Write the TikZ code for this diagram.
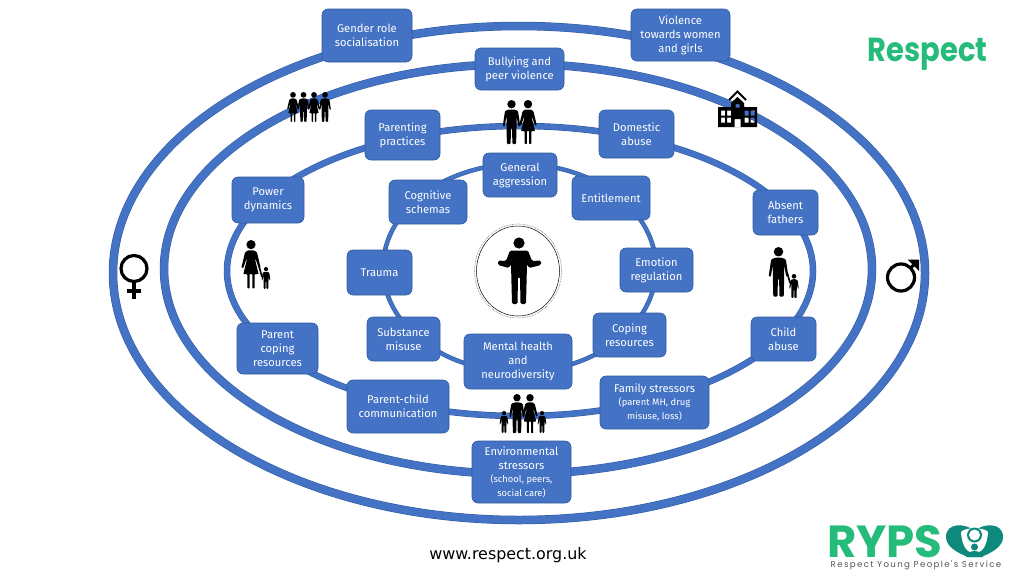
\documentclass[tikz,border=0pt]{standalone}
\usepackage{fontspec}
\usepackage{xcolor}
\setmainfont{Fira Sans}
\newfontfamily\logofont{Poppins}
\newfontfamily\webfont{DejaVu Sans}
\definecolor{ringblue}{HTML}{4472C4}
\definecolor{ringedge}{HTML}{2F5C9F}
\definecolor{respectgreen}{HTML}{25BC7B}
\definecolor{heartteal}{HTML}{0E8A7D}
\definecolor{strapgrey}{HTML}{555555}
\newcommand{\subtextfont}{\fontsize{9.4}{11.5}\selectfont}
\tikzset{
   topic/.style={draw=ringedge,fill=ringblue,rounded corners=6,line width=0.6,inner sep=0,
     align=center,text=white,font=\fontsize{11.2}{14}\selectfont},
   ring/.style={draw=ringedge,double=ringblue,line width=0.5},
   pics/manfig/.style={code={
     \fill (0,4.2) circle (4.2);
     \fill[rounded corners=1] (-3,9.5) -- (3,9.5) -- (6.5,11) -- (8.7,26) -- (6.9,26.5) -- (5,16)
       -- (5,28) -- (4.6,44) -- (0.9,44) -- (0.5,28) -- (-0.5,28) -- (-0.9,44) -- (-4.6,44) -- (-5,28) -- (-5,16)
       -- (-6.9,26.5) -- (-8.7,26) -- (-6.5,11) -- cycle;
   }},
   pics/womanfig/.style={code={
     \fill (0,4.2) circle (4.2);
     \fill[rounded corners=0.7] (-3,9.5) -- (3,9.5) -- (5.5,11.5) -- (8.7,25) -- (7,25.5) -- (3.8,16) -- (4,19)
       -- (7,31) -- (3.4,31) -- (3.4,44) -- (1.2,44) -- (1.2,31) -- (-1.2,31) -- (-1.2,44) -- (-3.4,44)
       -- (-3.4,31) -- (-7,31) -- (-4,19) -- (-3.8,16) -- (-7,25.5) -- (-8.7,25) -- (-5.5,11.5) -- cycle;
   }},
}
\begin{document}
\begin{tikzpicture}[x=1pt,y=-1pt]
  \useasboundingbox (0,0) rectangle (1024,576);

  % rings
  \draw [ring,double distance=7.5] (519,273) ellipse (406 and 247);
  \draw [ring,double distance=7.5] (518,269) ellipse (354 and 205);
  \draw [ring,double distance=5.5] (520,271) ellipse (293 and 145);
  \draw [ring,double distance=3.5] (519.5,268) ellipse (136.5 and 104);

  % outer ring
  \node (gender) at (367,35.5) [topic,minimum width=90,minimum height=53] {Gender role\\socialisation};
  \node (violence) at (680.5,35) [topic,minimum width=99,minimum height=52] {Violence\\towards women\\and girls};
  % middle ring
  \node (bullying) at (519.5,69) [topic,minimum width=89,minimum height=42] {Bullying and\\peer violence};
  \node (environ) at (521.5,472) [topic,minimum width=99,minimum height=62] {Environmental\\stressors\\[-1pt]\subtextfont (school, peers,\\\subtextfont social care)};
  % inner ring
  \node (parenting) at (402.5,135) [topic,minimum width=75,minimum height=50] {Parenting\\practices};
  \node (domestic) at (636.5,134) [topic,minimum width=75,minimum height=48] {Domestic\\abuse};
  \node (power) at (268,200) [topic,minimum width=72,minimum height=46] {Power\\dynamics};
  \node (absent) at (785.5,212.5) [topic,minimum width=65,minimum height=45] {Absent\\fathers};
  \node (coping) at (277.5,348.5) [topic,minimum width=81,minimum height=51] {Parent\\coping\\resources};
  \node (child) at (783.5,339) [topic,minimum width=65,minimum height=44] {Child\\abuse};
  \node (parentchild) at (398,406.5) [topic,minimum width=102,minimum height=53] {Parent-child\\communication};
  \node (family) at (654.5,402.5) [topic,minimum width=109,minimum height=53] {Family stressors\\[-1pt]\subtextfont (parent MH, drug\\\subtextfont misuse, loss)};
  % innermost ring
  \node (general) at (520,175) [topic,minimum width=74,minimum height=44] {General\\aggression};
  \node (cognitive) at (428,202) [topic,minimum width=78,minimum height=44] {Cognitive\\schemas};
  \node (entitle) at (611,198) [topic,minimum width=78,minimum height=44] {Entitlement};
  \node (trauma) at (379.5,272.5) [topic,minimum width=65,minimum height=45] {Trauma};
  \node (emotion) at (656.5,270) [topic,minimum width=73,minimum height=44] {Emotion\\regulation};
  \node (substance) at (403.5,339) [topic,minimum width=73,minimum height=44] {Substance\\misuse};
  \node (resources) at (629.5,335) [topic,minimum width=73,minimum height=44] {Coping\\resources};
  \node (mental) at (518,361.5) [topic,minimum width=108,minimum height=55] {Mental health\\and\\neurodiversity};

  % people
  \pic [scale=0.68] at (293,92) {womanfig};
  \pic [scale=0.68] at (303.5,92) {manfig};
  \pic [scale=0.68] at (314,92) {womanfig};
  \pic [scale=0.68] at (325,92) {manfig};
  \pic at (511.5,100) {manfig};
  \pic at (528,100) {womanfig};
  \pic [scale=1.1] at (251,240) {womanfig};
  \pic [scale=0.5] at (266,267) {manfig};
  \draw [line width=1.6] (259,266) -- (262,277);
  \pic [scale=1.13] at (778.5,247) {manfig};
  \pic [scale=0.55] at (794,274) {manfig};
  \draw [line width=1.6] (787,272) -- (790,283);
  \pic [scale=0.5] at (504,411) {manfig};
  \pic [scale=0.89] at (517,394) {manfig};
  \pic [scale=0.89] at (530,394) {womanfig};
  \pic [scale=0.5] at (542,411) {manfig};

  % centre
  \draw [gray,densely dotted,line width=0.7] (518,271) ellipse (43.5 and 47);
  \draw [line width=0.5] (518,271) ellipse (41.5 and 45);
  \fill (519,243) circle (5.6);
  \fill [rounded corners=1.5] (510,250.5) -- (528,250.5) -- (532,261) -- (541,260.5) -- (541,265) -- (529,268) -- (527,264)
    -- (526,304) -- (520.5,304) -- (520,277) -- (518,277) -- (517.5,304) -- (512,304) -- (511,264) -- (509,268)
    -- (498,265) -- (498,260.5) -- (506,261) -- cycle;

  % gender symbols
  \draw [line width=3.2] (134,268.5) circle (13);
  \draw [line width=3.2] (134,281.5) -- (134,299) (127,291) -- (141,291);
  \draw [line width=3.2] (901,277.5) circle (13.5);
  \draw [line width=3.2] (910.5,268) -- (917,261.5);
  \fill (919,259.5) -- (919,271) -- (907.5,259.5) -- cycle;

  % school
  \fill [even odd rule] (718,107) -- (731,107) -- (731,103) -- (737.5,97) -- (744,103) -- (744,107) -- (757,107) -- (757,127) -- (718,127) -- cycle
    (735.5,104) rectangle (739.5,107.5) (734.5,119) rectangle (740.5,127)
    (721,110.5) rectangle +(4,5) (727,110.5) rectangle +(4,5) (721,117.5) rectangle +(4,5) (727,117.5) rectangle +(4,5)
    (744.5,110.5) rectangle +(4,5) (750.5,110.5) rectangle +(4,5) (744.5,117.5) rectangle +(4,5) (750.5,117.5) rectangle +(4,5);
  \draw [line width=1.8] (729,100) -- (737.5,91.5) -- (746,100);

  % logos
  \node (respect) at (927.5,54) [transform shape,yscale=1.15,text=respectgreen,font=\logofont\bfseries\fontsize{29}{29}\selectfont,inner sep=0] {Respect};
  \node (rypsname) at (885,541.5) [text=respectgreen,font=\logofont\bfseries\fontsize{45}{45}\selectfont,inner sep=0] {RYPS};
  \node (rypsline) at (916,565) [text=strapgrey,font=\logofont\fontsize{8.6}{9}\selectfont\addfontfeature{LetterSpace=16},inner sep=0] {Respect Young People's Service};
  \fill [heartteal] (974.5,531) .. controls (966,523) and (946,522) .. (946,537) .. controls (946,547) and (958,553) .. (968,557)
    -- (981,557) .. controls (991,553) and (1003,547) .. (1003,537) .. controls (1003,522) and (983,523) .. (974.5,531) -- cycle;
  \fill [white] (961,532) .. controls (962,548) and (968,553) .. (974.5,553) .. controls (981,553) and (987,548) .. (988,532)
    .. controls (984,527) and (965,527) .. (961,532) -- cycle;
  \fill [heartteal] (974.5,535) circle (7.5);
  \fill [white] (974.5,535) circle (5.5);
  \fill [heartteal] (974.5,547) circle (3.5);
  \fill [heartteal] (966,557) .. controls (967,549) and (982,549) .. (983,557) -- cycle;

  \node (web) at (508,555) [font=\webfont\fontsize{15.9}{16}\selectfont,inner sep=0] {www.respect.org.uk};
\end{tikzpicture}
\end{document}
